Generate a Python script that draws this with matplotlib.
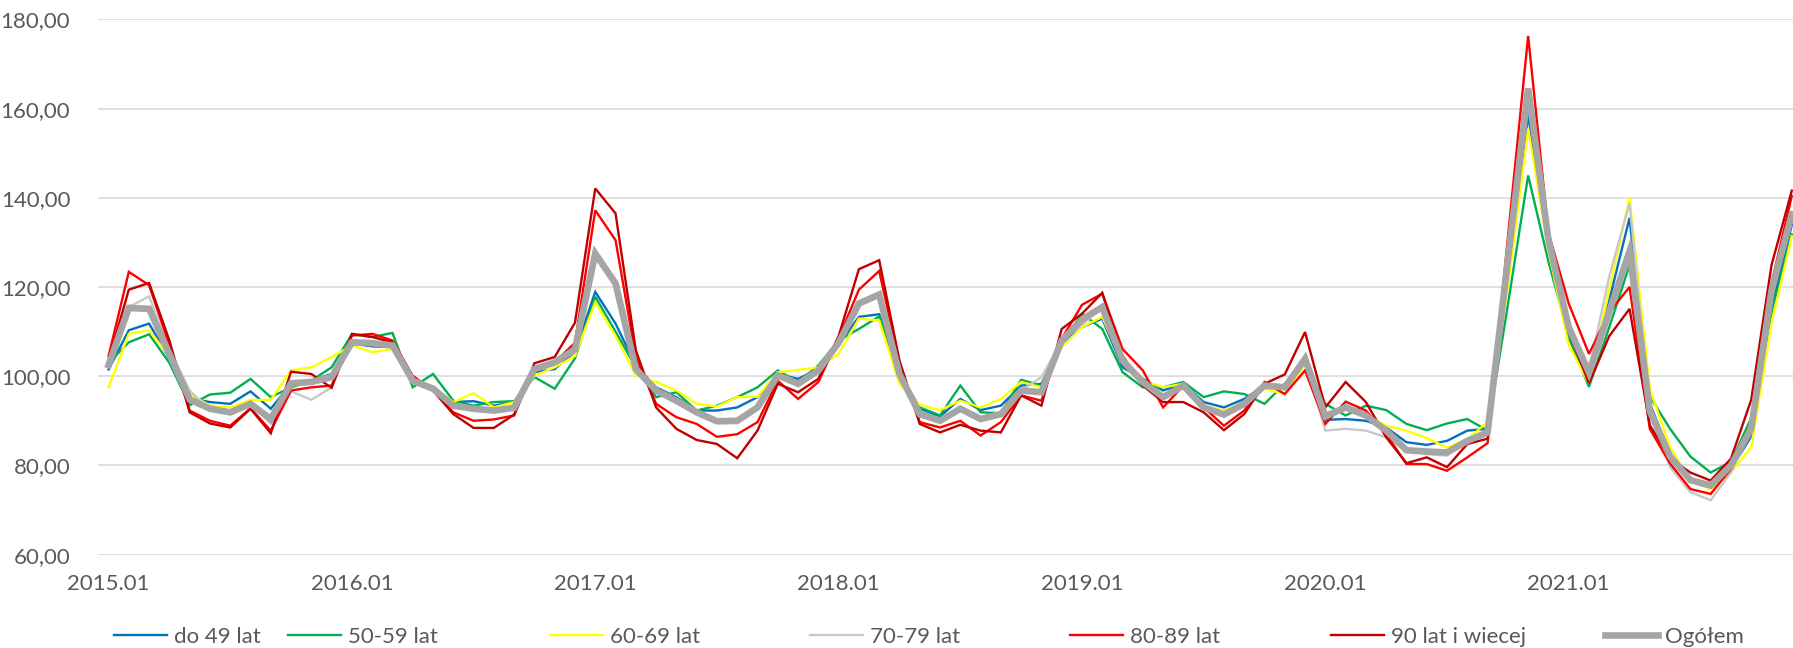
import matplotlib
matplotlib.use('Agg')
import matplotlib.pyplot as plt
from matplotlib.ticker import FuncFormatter

plt.rcParams['font.family'] = ['Lato', 'DejaVu Sans']

# miesiace 2015.01 - 2021.12
years = ['2015', '2016', '2017', '2018', '2019', '2020', '2021']
months = [y + '.' + str(m).zfill(2) for y in years for m in range(1, 13)]
tick_labels = [y + '.01' for y in years]

series_names = ['do 49 lat', '50-59 lat', '60-69 lat', '70-79 lat', '80-89 lat', '90 lat i wiecej', 'Ogółem']

do49 = [101.5, 110.3, 111.8, 104, 95, 94.2, 93.8, 96.6, 92.7, 98.3, 99, 100.5,
        107.3, 106.7, 106.5, 98.7, 97.2, 94.2, 94.4, 93.4, 94.2, 100.9, 101.6, 105.5,
        118.9, 111.8, 102.4, 97.5, 95.3, 92.3, 92.3, 93, 95.3, 100.5, 99.4, 101.6,
        107, 113.3, 113.9, 100.5, 92.7, 91, 94.9, 92.4, 93.4, 97.9, 98.3, 107.3,
        111, 112.9, 102, 99.4, 96.8, 98.3, 94.2, 93, 94.9, 97.9, 97.5, 103.1,
        90.2, 90.4, 90, 88.5, 85.2, 84.6, 85.5, 87.8, 88.2, 123, 158.5, 129,
        108.6, 98.8, 117, 135.5, 93.9, 82.5, 76.3, 75.5, 79.2, 86.5, 115.1, 133.9]
l50_59 = [103, 107.6, 109.4, 103, 93.5, 95.9, 96.3, 99.4, 95.3, 97.5, 99, 102,
          109.4, 108.8, 109.7, 97.5, 100.5, 94.5, 93.4, 94.2, 94.4, 99.8, 97.2, 104,
          117.8, 110, 102, 95.3, 96.4, 92.3, 93.4, 95.3, 97.5, 101.3, 98.7, 102.4,
          108, 110.6, 113.4, 100.5, 93, 91.2, 97.9, 91.9, 91.7, 99.2, 97.9, 107.6,
          114, 110.6, 100.9, 97.5, 97.5, 98.7, 95.3, 96.6, 96, 93.8, 98.3, 103.1,
          93.8, 91.2, 93.4, 92.4, 89.3, 87.9, 89.4, 90.4, 87.8, 116, 145, 125.7,
          109, 97.6, 111, 124.9, 95.5, 88.2, 82, 78.4, 80.8, 90.6, 114.3, 131.8]
l60_69 = [97.5, 109.5, 110.3, 104.5, 96, 93.4, 93, 94.7, 94.7, 101.3, 102, 104.3,
          106.9, 105.4, 106.1, 99.4, 97.5, 94.2, 96.2, 93, 94.2, 100.1, 102, 104.5,
          116.6, 109, 100.2, 98.7, 96.8, 93.8, 93.2, 95.3, 95.4, 100.9, 101.4, 102,
          105, 112.9, 112.5, 98.3, 93.6, 92.4, 94.5, 93, 94.9, 98.7, 97.5, 106.5,
          111, 113.3, 103.1, 99, 97.5, 98.3, 93.4, 92.3, 94.2, 97.2, 96, 102.8,
          91.7, 93.2, 91.5, 88.9, 87.8, 86.1, 84, 85.9, 89.7, 120, 155.5, 128.2,
          107, 98.4, 119.5, 140, 97.1, 84.1, 76.5, 74.7, 78.4, 84.1, 111.8, 131.4]
l70_79 = [103, 115.5, 117.9, 106, 96.8, 92.3, 91.5, 94, 89.3, 96.6, 94.7, 97.5,
          108, 107.4, 107, 99, 97, 93.4, 92.7, 92.3, 92.9, 101.6, 103, 106,
          126.5, 121.5, 101.6, 96.5, 94.2, 91.5, 89.5, 89.5, 93, 100.2, 98.3, 101.3,
          107, 116.3, 118.3, 100.5, 91.5, 90, 92.7, 90.4, 91.5, 96.8, 99.8, 108,
          111.5, 115.5, 103.5, 98.7, 95.3, 97.9, 93.5, 91.4, 93.8, 97.5, 98, 103.5,
          87.8, 88.2, 87.8, 86.3, 83.4, 82.5, 82.2, 85.5, 87, 125, 163, 132,
          111, 101.2, 122.4, 138.8, 92.5, 79.6, 74, 72.2, 78.4, 88, 119, 136.5]
l80_89 = [104.5, 123.4, 120.4, 107, 92.3, 90, 88.9, 92.8, 87.8, 96.8, 97.5, 97.9,
          109.1, 109.5, 108, 100.1, 96.8, 91.9, 90, 90.3, 91.2, 102, 103.1, 107.5,
          137.2, 130.5, 104.3, 93.8, 90.8, 89.3, 86.4, 87, 89.7, 99, 94.9, 98.7,
          108.5, 119.4, 123.6, 103.1, 89.7, 88.5, 90, 86.7, 89.7, 95.7, 94.5, 108.4,
          116, 118.5, 106.1, 101.3, 93, 97.9, 93, 88.9, 92.3, 98.7, 96, 101.3,
          89.3, 94.3, 92.3, 87, 80.3, 80.3, 78.8, 81.8, 85, 131, 176.3, 132.2,
          116.3, 105, 114.3, 120, 88.2, 80.4, 74.7, 73.6, 79.2, 87.5, 120.8, 140.4]
l90_plus = [103.5, 119.4, 120.9, 108, 91.9, 89.4, 88.5, 92.7, 87.2, 101, 100.5, 97.4,
            109.5, 108.8, 107.6, 99, 96.8, 91.5, 88.4, 88.4, 91.4, 102.9, 104.3, 112,
            142.1, 136.5, 105.8, 93, 88.2, 85.7, 84.8, 81.6, 87.8, 98.3, 96.4, 99.4,
            109, 124, 126, 103.5, 89.3, 87.4, 89.1, 87.8, 87.4, 95.7, 93.4, 110.6,
            114, 118.7, 104.6, 97.9, 94.2, 94.2, 91.9, 87.9, 91.5, 98.3, 100.4, 109.9,
            93, 98.7, 94.2, 86.3, 80.5, 81.8, 79.6, 84.8, 86, 124, 163, 131,
            110, 98.4, 109, 115.1, 89, 81.6, 78.4, 76.6, 81.5, 94.7, 124.9, 141.6]
ogolem = [102.5, 115.3, 115.1, 105, 94.8, 92.7, 91.9, 93.8, 90.4, 98.4, 98.7, 99.8,
          107.6, 107.4, 106.9, 99, 97.2, 93.4, 92.7, 92.3, 92.9, 101.6, 103.1, 106,
          127.5, 120.8, 101.6, 96.8, 94.5, 91.9, 89.9, 90, 93, 100.2, 98.3, 101.3,
          107.5, 116.3, 118.3, 100.5, 91.5, 90, 92.7, 90.4, 91.5, 96.8, 96.4, 108,
          112.7, 115.5, 103.5, 98.7, 95.3, 97.9, 93, 91.4, 93.8, 97.9, 97.5, 103.9,
          91, 93, 91.2, 87.8, 83.4, 83.1, 82.9, 85.5, 87.4, 126, 164.5, 130.6,
          111, 100.8, 114.5, 128, 92.2, 82, 76.7, 75.5, 80, 88.2, 119.2, 136.3]

all_series = [do49, l50_59, l60_69, l70_79, l80_89, l90_plus, ogolem]
colors = ['#0070C0', '#00B050', '#FFFF00', '#C8C8C8', '#FF0000', '#C00000', '#A5A5A5']
widths = [1.7, 1.7, 1.7, 1.7, 1.7, 1.7, 4.8]
legend_x = [114, 288, 550, 810, 1070, 1331, 1605]

fig = plt.figure(figsize=(17.93, 6.48), dpi=100)
ax = fig.add_axes([98 / 1793, 1 - 554.6 / 648, 1 - 98 / 1793, (554.6 - 19.4) / 648])

x = list(range(len(months)))
lines = []
for name, vals, c, w in zip(series_names, all_series, colors, widths):
    ln, = ax.plot(x, vals, color=c, lw=w, label=name, solid_joinstyle='miter')
    lines.append(ln)

ax.set_ylim(60, 180)
ax.set_yticks(range(60, 181, 20))
ax.yaxis.set_major_formatter(FuncFormatter(lambda v, p: '{:.2f}'.format(v).replace('.', ',')))
ax.set_xlim(-0.52, 83.06)
ax.set_xticks([months.index(t) for t in tick_labels])
ax.set_xticklabels(tick_labels)

ax.grid(axis='y', color='#D9D9D9', lw=1.2)
ax.set_axisbelow(True)
for s in ax.spines.values():
    s.set_visible(False)
ax.tick_params(axis='both', length=0, labelsize=16, colors='#595959')
ax.tick_params(axis='y', pad=20)
ax.tick_params(axis='x', pad=14)

for ln, lx in zip(lines, legend_x):
    fig.legend(handles=[ln], loc='center left', bbox_to_anchor=(lx / 1793, 0.017),
               frameon=False, fontsize=16, labelcolor='#595959', handlelength=2.4,
               handletextpad=0.3, borderpad=0, borderaxespad=0)

plt.savefig('out.png', dpi=100)
